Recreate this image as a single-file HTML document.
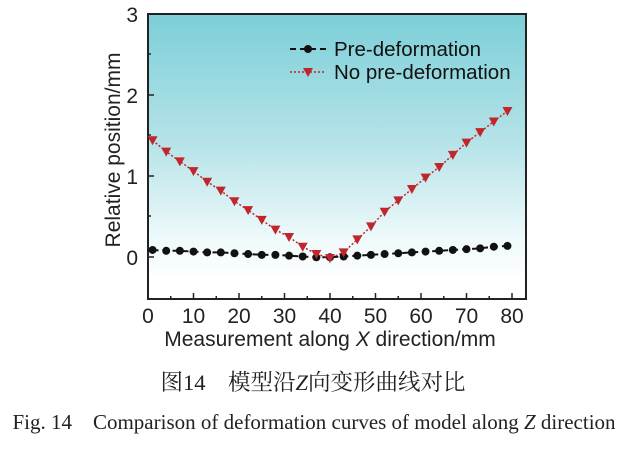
<!DOCTYPE html><html><head><meta charset="utf-8"><style>body{margin:0;background:#fff;width:629px;height:444px;overflow:hidden}</style></head><body>
<svg width="629" height="444" xmlns="http://www.w3.org/2000/svg" font-family="Liberation Sans, sans-serif">
<defs><linearGradient id="g" x1="0" y1="0" x2="0" y2="1">
<stop offset="0" stop-color="#7ccfd8"/><stop offset="0.45" stop-color="#b5e3e8"/><stop offset="0.8" stop-color="#f0fafb"/><stop offset="0.9" stop-color="#fafdfe"/><stop offset="0.92" stop-color="#fff"/></linearGradient></defs>
<rect x="148" y="14" width="378" height="285" fill="url(#g)" stroke="#222" stroke-width="2"/>
<g stroke="#222" stroke-width="1.5">
<line x1="148" y1="257" x2="154" y2="257"/><line x1="148" y1="176" x2="154" y2="176"/><line x1="148" y1="95" x2="154" y2="95"/>
<line x1="148" y1="216" x2="151" y2="216"/><line x1="148" y1="135" x2="151" y2="135"/><line x1="148" y1="54" x2="151" y2="54"/>
</g>
<g id="xt" stroke="#222" stroke-width="1.5"></g>
<g font-size="21" fill="#222" text-anchor="end"><text x="138" y="265">0</text><text x="138" y="184">1</text><text x="138" y="103">2</text><text x="138" y="22">3</text></g>
<g font-size="21" fill="#222" text-anchor="middle" id="xl"></g>
<text transform="translate(120,150) rotate(-90)" font-size="21" fill="#222" text-anchor="middle">Relative position/mm</text>
<text x="330" y="346" font-size="21" fill="#222" text-anchor="middle">Measurement along <tspan font-style="italic">X</tspan> direction/mm</text>
<g id="s"></g>
<line x1="290" y1="49" x2="326" y2="49" stroke="#111" stroke-width="2" stroke-dasharray="6,4"/><circle cx="308" cy="49" r="4" fill="#111"/>
<text x="334" y="56" font-size="20.5" fill="#111">Pre-deformation</text>
<line x1="290" y1="72" x2="326" y2="72" stroke="#c0272d" stroke-width="1.5" stroke-dasharray="2,2"/><path d="M303,68 L313,68 L308,77Z" fill="#c0272d"/>
<text x="334" y="79" font-size="20.5" fill="#111">No pre-deformation</text>
<text x="313" y="390" font-size="22.5" fill="#222" text-anchor="middle" font-family="Liberation Serif, Noto Serif CJK SC, serif">图14　模型沿<tspan font-style="italic">Z</tspan>向变形曲线对比</text>
<text x="314" y="429" font-size="21" fill="#222" text-anchor="middle" font-family="Liberation Serif, serif">Fig. 14　Comparison of deformation curves of model along <tspan font-style="italic">Z</tspan> direction</text>
</svg>
<script>
var ns="http://www.w3.org/2000/svg";function X(v){return 148+v*4.55}function Y(v){return 257.3-v*81.3}
var xt=document.getElementById('xt'),xl=document.getElementById('xl'),s=document.getElementById('s');
for(var i=0;i<=80;i+=5){var l=document.createElementNS(ns,'line');l.setAttribute('x1',X(i));l.setAttribute('x2',X(i));l.setAttribute('y1',299);l.setAttribute('y2',i%10?296:293);xt.appendChild(l);
if(i%10==0){var t=document.createElementNS(ns,'text');t.setAttribute('x',X(i));t.setAttribute('y',323);t.textContent=i;xl.appendChild(t);}}
var r=[1.44,1.30,1.18,1.06,0.93,0.82,0.69,0.58,0.46,0.34,0.25,0.13,0.04,-0.01,0.06,0.22,0.38,0.56,0.70,0.84,0.98,1.11,1.26,1.41,1.54,1.67,1.80];
var b=[0.09,0.08,0.08,0.07,0.06,0.06,0.05,0.04,0.03,0.03,0.02,0.01,0.0,0.0,0.01,0.02,0.03,0.04,0.05,0.06,0.07,0.08,0.09,0.10,0.11,0.13,0.14];
var pr='',pb='';for(var k=0;k<27;k++){var x=X(1+3*k);pr+=(k?'L':'M')+x+','+Y(r[k]);pb+=(k?'L':'M')+x+','+Y(b[k]);}
function P(d,st,w,da){var p=document.createElementNS(ns,'path');p.setAttribute('d',d);p.setAttribute('fill','none');p.setAttribute('stroke',st);p.setAttribute('stroke-width',w);p.setAttribute('stroke-dasharray',da);s.appendChild(p);}
P(pb,'#111',2,'6,4');P(pr,'#c0272d',1.5,'2,2');
for(k=0;k<27;k++){x=X(1+3*k);var c=document.createElementNS(ns,'circle');c.setAttribute('cx',x);c.setAttribute('cy',Y(b[k]));c.setAttribute('r',4);c.setAttribute('fill','#111');s.appendChild(c);
var y=Y(r[k]);var t=document.createElementNS(ns,'path');t.setAttribute('d','M'+(x-5)+','+(y-4)+'L'+(x+5)+','+(y-4)+'L'+x+','+(y+5)+'Z');t.setAttribute('fill','#c0272d');s.appendChild(t);}
</script>
</body></html>
